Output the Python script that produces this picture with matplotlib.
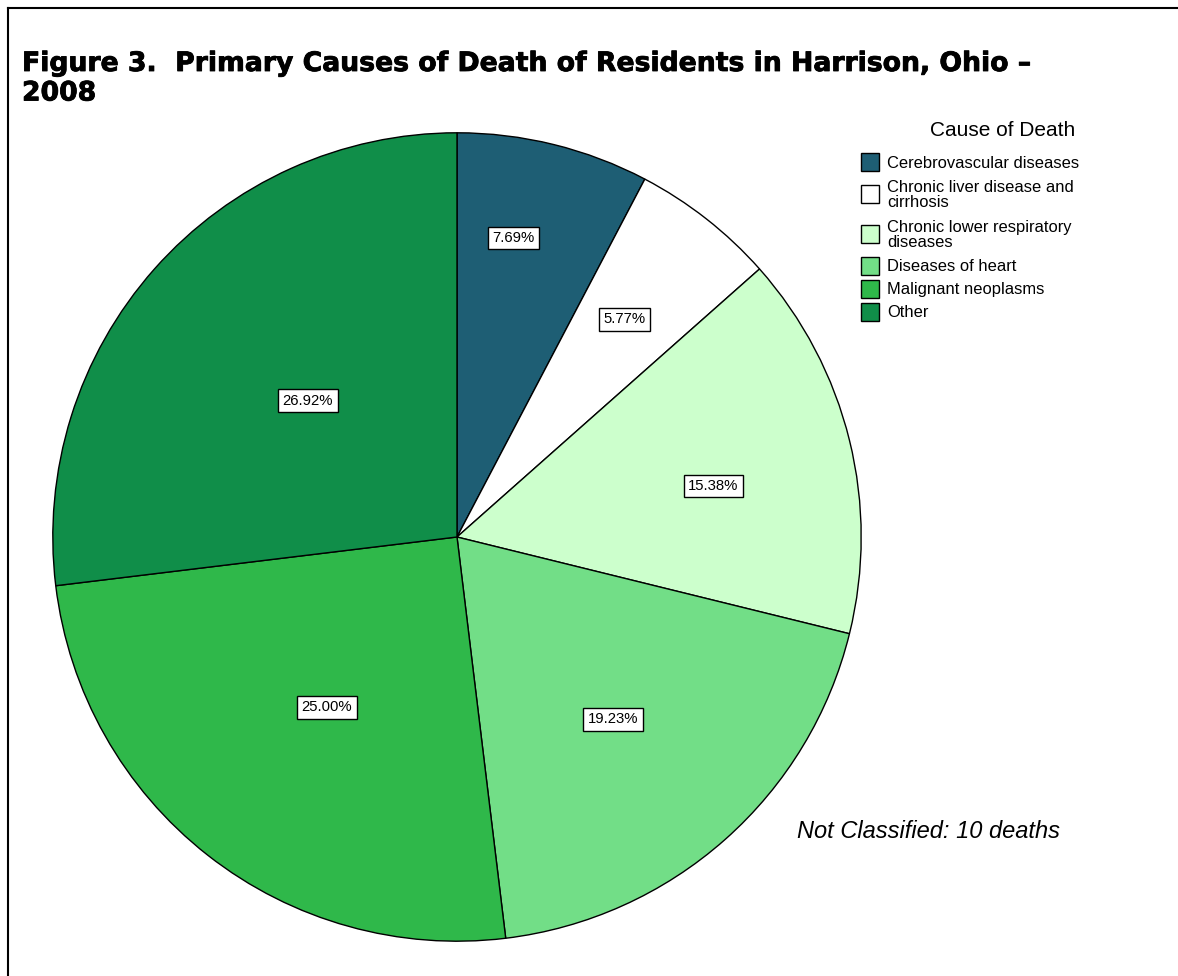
import matplotlib
matplotlib.use("Agg")
import matplotlib.pyplot as plt
from matplotlib.patches import Rectangle
from matplotlib.lines import Line2D
import matplotlib.patheffects as pe
import numpy as np

# ---- data ----
categories = ["Cerebrovascular diseases",
              "Chronic liver disease and\ncirrhosis",
              "Chronic lower respiratory\ndiseases",
              "Diseases of heart",
              "Malignant neoplasms",
              "Other"]
deaths = [4, 3, 8, 10, 13, 14]
colors = ["#1E5E74", "#FFFFFF", "#CCFFCC", "#72DE87", "#2FB84A", "#108E49"]
title_lines = ["Figure 3.  Primary Causes of Death of Residents in Harrison, Ohio \u2013",
               "2008"]
legend_title = "Cause of Death"
note_text = "Not Classified: 10 deaths"

# label placement (style only): radial fraction and angular nudge in degrees
label_r = [0.753, 0.68, 0.647, 0.594, 0.53, 0.50]
label_dtheta = [3.1, 0.5, -2.6, -1.0, 0.7, -0.9]

W, H = 1178, 976
DPI = 100
fig = plt.figure(figsize=(W / DPI, H / DPI), dpi=DPI)
fig.patch.set_facecolor("white")

def fx(x):
    return x / W

def fy(y):
    return 1 - y / H

# frame (left and top lines)
fig.add_artist(Line2D([fx(7.5), fx(7.5)], [0, fy(7.5)], color="black", lw=1.5,
                      transform=fig.transFigure))
fig.add_artist(Line2D([fx(7.5), 1], [fy(7.5), fy(7.5)], color="black", lw=1.5,
                      transform=fig.transFigure))

# title (two lines)
for i, line in enumerate(title_lines):
    fig.text(fx(22), fy(71 + 29.5 * i), line, ha="left", va="baseline",
             fontsize=19.2, fontweight="heavy", family="DejaVu Sans",
             path_effects=[pe.withStroke(linewidth=0.6, foreground="black")])

# pie axes
cx, cy, R = 457, 537, 405
ax = fig.add_axes([fx(cx - R), fy(cy + R), 2 * R / W, 2 * R / H])
ax.axis("off")

total = sum(deaths)
wedges, _ = ax.pie(deaths, colors=colors, startangle=90, counterclock=False,
                   radius=1, center=(0, 0),
                   wedgeprops=dict(edgecolor="black", linewidth=1.0))
ax.set_xlim(-1.002, 1.002)
ax.set_ylim(-1.002, 1.002)

cum = 0
for v, r, dt in zip(deaths, label_r, label_dtheta):
    mid = np.deg2rad(90 - (cum + v / 2) / total * 360 + dt)
    cum += v
    ax.text(r * np.cos(mid), r * np.sin(mid), f"{100 * v / total:.2f}%",
            ha="center", va="center", fontsize=10.7, family="Liberation Sans",
            bbox=dict(boxstyle="square,pad=0.3", facecolor="white",
                      edgecolor="black", linewidth=1.0))

# legend (manual)
fig.text(fx(1003), fy(131), legend_title, ha="center", va="center",
         fontsize=15, family="Liberation Sans")
y = 162
for lab, col in zip(categories, colors):
    nlines = lab.count("\n") + 1
    center = y + (nlines - 1) * 8.5
    fig.add_artist(Rectangle((fx(861), fy(center + 9)), 18 / W, 18 / H,
                             facecolor=col, edgecolor="black", linewidth=1.0,
                             transform=fig.transFigure))
    fig.text(fx(887), fy(center + 1), lab, ha="left", va="center", fontsize=11.9,
             family="Liberation Sans", linespacing=1.0)
    y = center + (nlines - 1) * 8.5 + 23.2

fig.text(fx(929), fy(832), note_text, ha="center", va="center", fontsize=17,
         style="italic", family="Liberation Sans")

fig.savefig("out.png", dpi=DPI, facecolor="white")
